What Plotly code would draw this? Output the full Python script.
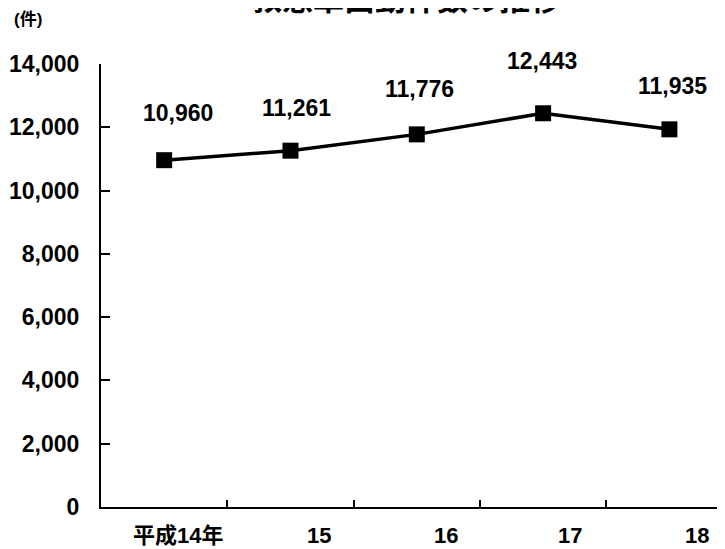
import plotly.graph_objects as go

# ---- data ----
categories = ["平成14年", "15", "16", "17", "18"]
values = [10960, 11261, 11776, 12443, 11935]
value_labels = ["10,960", "11,261", "11,776", "12,443", "11,935"]
y_ticks = [0, 2000, 4000, 6000, 8000, 10000, 12000, 14000]
y_tick_text = ["0", "2,000", "4,000", "6,000", "8,000", "10,000", "12,000", "14,000"]
title_text = "救急車出動件数の推移"
unit_text = "(件)"

# ---- styling offsets (pixels) ----
label_dx = [14, 6, 3, -1, 3]
label_dy = [47, 43, 45, 52, 43]
cat_dx = [14, 29, 29, 27, 28]

FONT = "Liberation Sans, Arial, Noto Sans CJK JP, sans-serif"

# page has an 8px body margin; plot area in page pixels: x 101..725, y 64..507
PAGE_OFF = 8
L, T, R_EDGE, B_EDGE = 101 - PAGE_OFF, 64 - PAGE_OFF, 725 - PAGE_OFF, 507 - PAGE_OFF
W, H = 725, 549
PW, PH = R_EDGE - L, B_EDGE - T

xs = list(range(len(categories)))

fig = go.Figure()
fig.add_trace(go.Scatter(
    x=xs, y=values, mode="lines+markers",
    line=dict(color="black", width=3.5),
    marker=dict(symbol="square", size=16, color="black"),
    hoverinfo="skip", showlegend=False, cliponaxis=False,
))

annotations = []
for i, (v, t) in enumerate(zip(values, value_labels)):
    annotations.append(dict(
        x=i, y=v, xref="x", yref="y", text=f"<b>{t}</b>", showarrow=False,
        xshift=label_dx[i], yshift=label_dy[i], xanchor="center", yanchor="middle",
        font=dict(family=FONT, size=23, color="black"),
    ))
for i, c in enumerate(categories):
    annotations.append(dict(
        x=i, y=0, xref="x", yref="paper", text=f"<b>{c}</b>", showarrow=False,
        xshift=cat_dx[i], yshift=-28, xanchor="center", yanchor="middle",
        font=dict(family=FONT, size=22, color="black"),
    ))
annotations.append(dict(
    x=(406 - 101) / PW, y=1, xref="paper", yref="paper", text=f"<b>{title_text}</b>",
    showarrow=False, yshift=68, xanchor="center", yanchor="middle",
    font=dict(family="Noto Sans CJK JP, sans-serif", size=31, color="black"),
))
annotations.append(dict(
    x=(28 - 101) / PW, y=1 + (64 - 20) / PH, xref="paper", yref="paper",
    text=f"<b>{unit_text}</b>", showarrow=False, xanchor="center", yanchor="middle",
    font=dict(family=FONT, size=17, color="black"),
))

fig.update_layout(
    width=W, height=H,
    margin=dict(l=L, r=W - R_EDGE, t=T, b=H - B_EDGE, pad=0, autoexpand=False),
    paper_bgcolor="white", plot_bgcolor="white",
    annotations=annotations,
    xaxis=dict(
        range=[-0.5, 4.44], showgrid=False, zeroline=False, automargin=False,
        showline=True, linecolor="black", linewidth=2,
        tickmode="array", tickvals=[0.5, 1.5, 2.5, 3.5],
        ticks="inside", ticklen=7, tickwidth=2, tickcolor="black",
        showticklabels=False,
    ),
    yaxis=dict(
        range=[0, 14000], showgrid=False, zeroline=False, automargin=False,
        showline=True, linecolor="black", linewidth=2,
        tickmode="array", tickvals=y_ticks, ticktext=y_tick_text,
        ticks="inside", ticklen=9, tickwidth=2, tickcolor="black",
        tickfont=dict(family=FONT, size=23, color="black", weight="bold"),
        ticklabelstandoff=15,
    ),
)

fig.write_html("out.html")
